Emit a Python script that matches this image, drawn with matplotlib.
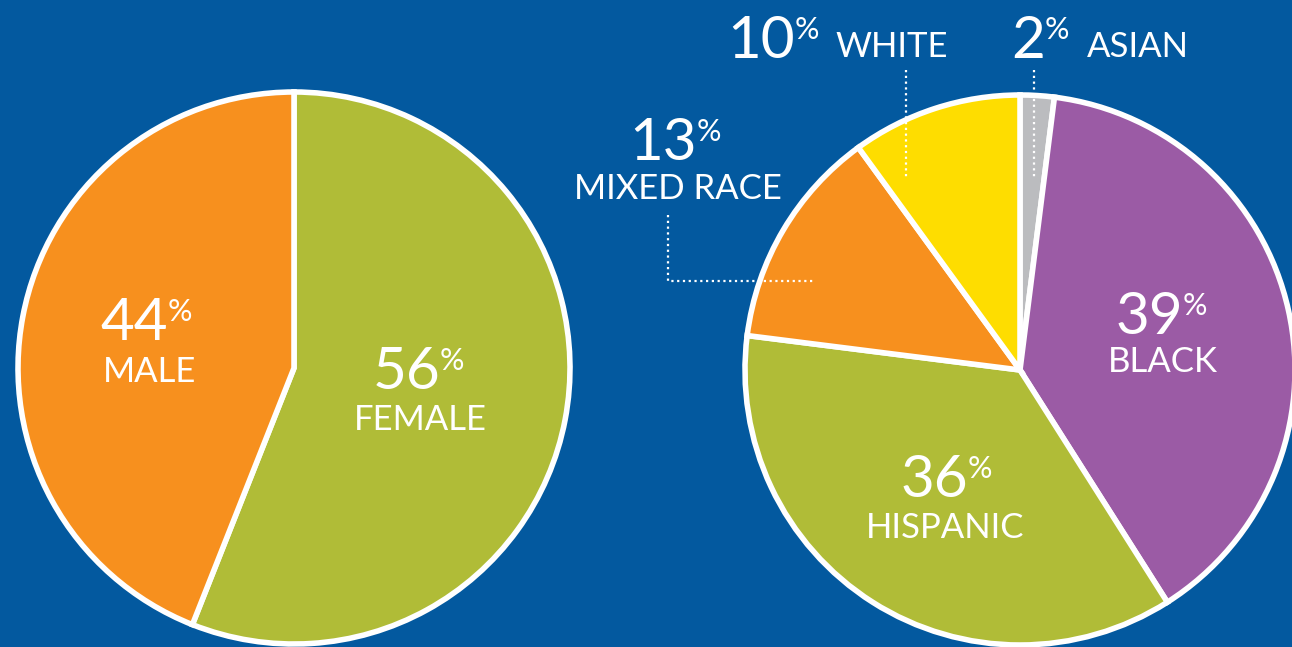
import matplotlib.pyplot as plt

# Gender split
gender_labels = ["FEMALE", "MALE"]
gender_values = [56, 44]
gender_colors = ["#B0BC37", "#F7901E"]

# Race / ethnicity split (clockwise from top)
race_labels = ["ASIAN", "BLACK", "HISPANIC", "MIXED RACE", "WHITE"]
race_values = [2, 39, 36, 13, 10]
race_colors = ["#BBBCBF", "#9B5BA5", "#B0BC37", "#F7901E", "#FEDD00"]

bg = "#03599F"
W, H = 1292, 647
font = ["Lato", "DejaVu Sans"]

fig = plt.figure(figsize=(W / 100, H / 100), dpi=100, facecolor=bg)
ax = fig.add_axes([0, 0, 1, 1])
ax.set_facecolor(bg)

wp = dict(edgecolor="white", linewidth=4, joinstyle="miter")

ax.pie(gender_values, colors=gender_colors, startangle=90, counterclock=False,
       center=(294, H - 368), radius=276, wedgeprops=wp, frame=True)
ax.pie(race_values, colors=race_colors, startangle=90, counterclock=False,
       center=(1020, H - 370), radius=275, wedgeprops=wp, frame=True)
ax.set_xlim(0, W)
ax.set_ylim(0, H)
ax.set_aspect("equal")
ax.axis("off")


def num_label(x_right, base_y, value):
    # big number ending at x_right, small % superscript after it
    ax.text(x_right, H - base_y, str(value), color="white", fontsize=42,
            ha="right", va="baseline", family=font)
    ax.text(x_right, H - base_y + 42, "%", color="white", fontsize=22,
            ha="left", va="top", family=font)


def name_label(x, base_y, text, ha="center"):
    ax.text(x, H - base_y, text, color="white", fontsize=25, ha=ha,
            va="baseline", family=font)


# left pie labels
num_label(168, 340, gender_values[1])
name_label(150, 382, gender_labels[1])
num_label(440, 389, gender_values[0])
name_label(420, 430, gender_labels[0])

# right pie labels
num_label(1183, 334, race_values[1])
name_label(1163, 372, race_labels[1])
num_label(968, 497, race_values[2])
name_label(945, 538, race_labels[2])
num_label(697, 160, race_values[3])
name_label(678, 199, race_labels[3])
num_label(795, 58, race_values[4])
name_label(835, 57, race_labels[4], ha="left")
num_label(1045, 58, race_values[0])
name_label(1087, 57, race_labels[0], ha="left")

# dotted leader lines
dot = dict(color="white", linewidth=1.6, linestyle=(0, (1, 1.6)))
ax.plot([906, 906], [H - 70, H - 178], **dot)
ax.plot([1034, 1034], [H - 70, H - 178], **dot)
ax.plot([668, 668, 813], [H - 215, H - 281, H - 281], **dot)

fig.savefig("out.png", dpi=100, facecolor=bg)
